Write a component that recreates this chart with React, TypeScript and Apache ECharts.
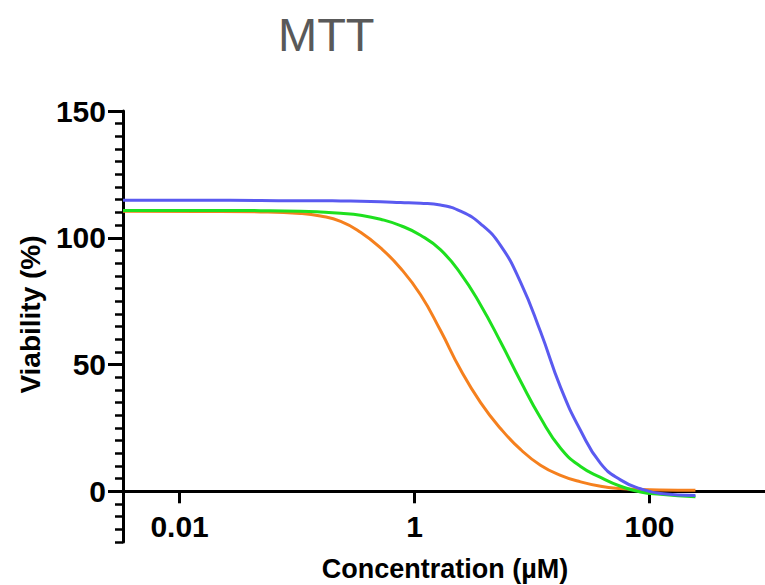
import React, { useEffect, useRef } from "react";
import * as echarts from "echarts";

const title = "MTT";
const xAxisName = "Concentration (µM)";
const yAxisName = "Viability (%)";
const yMajorTicks = [0, 50, 100, 150];

// concentrations (µM) at which the three fitted curves were read
const concentrations = [0.0033, 0.015, 0.049, 0.107, 0.158, 0.235, 0.347, 0.514, 0.76, 1.125, 1.66, 2.46, 3.65, 5.39, 7.98, 11.8, 17.5, 25.9, 38.3, 56.6, 83.8, 124, 246];
const orangeVal = [110.5, 110.4, 110.2, 109.6, 108.6, 106.5, 102.2, 96.0, 88.0, 77.5, 63.5, 48.0, 35.0, 24.8, 16.5, 10.3, 6.3, 3.7, 2.0, 1.1, 0.7, 0.5, 0.4];
const greenVal = [110.8, 110.8, 110.7, 110.5, 110.2, 109.7, 108.9, 107.3, 104.8, 101.0, 95.3, 86.0, 73.5, 59.0, 43.5, 29.0, 17.0, 9.8, 5.5, 2.0, -0.3, -1.2, -2.2];
const blueVal = [114.8, 114.8, 114.7, 114.6, 114.6, 114.5, 114.4, 114.2, 113.9, 113.6, 112.9, 110.5, 105.5, 97.0, 82.5, 63.0, 41.0, 24.0, 11.0, 4.5, 1.0, -0.9, -1.7];

const seriesDefs = [
  { name: "Orange", val: orangeVal, color: "#f5801e" },
  { name: "Green", val: greenVal, color: "#1ee01e" },
  { name: "Blue", val: blueVal, color: "#5a5af0" },
];

const FONT = "'Liberation Sans', Arial, sans-serif";

export default function App() {
  const ref = useRef<HTMLDivElement>(null);
  useEffect(() => {
    if (!ref.current) return;
    const chart = echarts.init(ref.current, null, { renderer: "svg" });
    chart.setOption({
      animation: false,
      backgroundColor: "#ffffff",
      title: {
        text: title,
        left: 273,
        top: 6,
        textStyle: { fontFamily: FONT, fontSize: 47, fontWeight: "normal", color: "#595959" },
      },
      grid: { left: 123, top: 111, width: 644, height: 431, containLabel: false, outerBoundsMode: "none" },
      xAxis: {
        type: "log",
        logBase: 100,
        min: 0.0033,
        max: 1000,
        name: xAxisName,
        nameLocation: "middle",
        nameGap: 13,
        nameTextStyle: { fontFamily: FONT, fontSize: 27, fontWeight: "bold", color: "#000" },
        axisLine: { show: true, onZero: true, lineStyle: { color: "#000", width: 3 } },
        axisTick: { show: true, length: 12, lineStyle: { color: "#000", width: 3 } },
        axisLabel: {
          showMinLabel: false,
          showMaxLabel: false,
          margin: -31,
          fontFamily: FONT,
          fontSize: 30,
          fontWeight: "bold",
          color: "#000",
        },
        splitLine: { show: false },
        minorTick: { show: false },
      },
      yAxis: [
        {
          type: "value",
          min: -20,
          max: 150,
          interval: 5,
          name: yAxisName,
          nameLocation: "middle",
          nameGap: 79,
          nameRotate: 90,
          nameTextStyle: { fontFamily: FONT, fontSize: 28, fontWeight: "bold", color: "#000", padding: [0, 0, 0, 24] },
          axisLine: { show: true, onZero: false, lineStyle: { color: "#000", width: 3 } },
          axisTick: { show: true, length: 8, lineStyle: { color: "#000", width: 2.5 } },
          axisLabel: {
            interval: 0,
            margin: 17,
            fontFamily: FONT,
            fontSize: 30,
            fontWeight: "bold",
            color: "#000",
            formatter: (v: number) => (yMajorTicks.includes(v) ? String(v) : ""),
          },
          splitLine: { show: false },
        },
        {
          type: "value",
          min: -20,
          max: 150,
          position: "left",
          axisLine: { show: false, onZero: false },
          axisTick: { show: true, customValues: yMajorTicks, length: 15, lineStyle: { color: "#000", width: 3 } },
          axisLabel: { show: false },
          splitLine: { show: false },
        },
      ],
      series: seriesDefs.map((s) => ({
        name: s.name,
        type: "line",
        yAxisIndex: 0,
        data: concentrations.map((c, i) => [c, s.val[i]]),
        smooth: 0.5,
        symbol: "none",
        lineStyle: { color: s.color, width: 3 },
        itemStyle: { color: s.color },
      })),
    });
    return () => chart.dispose();
  }, []);
  return <div ref={ref} style={{ width: 765, height: 585, position: "absolute", left: 0, top: 0 }} />;
}
